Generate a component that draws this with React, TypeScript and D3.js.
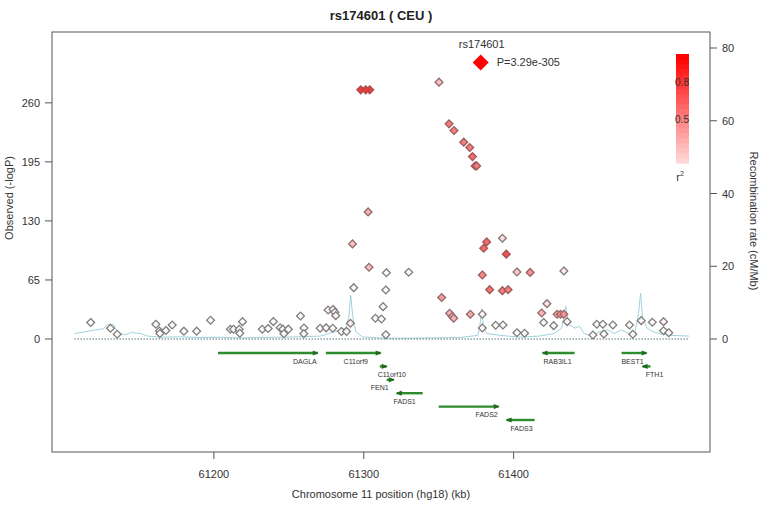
import React from "react";
import * as d3 from "d3";

// ---------------- DATA ----------------
const chartTitle = "rs174601 ( CEU )";
const leadName = "rs174601";
const leadPos = 61378; // kb
const leadLogP = 304.48;
const leadPText = "P=3.29e-305";

// [position kb, -log10 P, r2]
const snps: [number, number, number][] = [
  [61117.8, 18.2, 0.02], [61131.0, 11.8, 0.02], [61135.5, 5.2, 0.02], [61161.3, 16.2, 0.02],
  [61163.7, 8.8, 0.02], [61164.0, 6.1, 0.02], [61168.0, 9.4, 0.02], [61172.2, 15.4, 0.02],
  [61180.0, 8.6, 0.02], [61188.5, 8.6, 0.02], [61197.8, 20.6, 0.02], [61211.0, 10.7, 0.02],
  [61213.1, 10.7, 0.02], [61216.9, 10.7, 0.02], [61217.3, 6.3, 0.02], [61219.1, 19.1, 0.02],
  [61232.3, 10.7, 0.02], [61236.2, 11.6, 0.02], [61239.7, 19.1, 0.02], [61244.2, 12.4, 0.02],
  [61246.0, 10.8, 0.02], [61246.7, 5.8, 0.02], [61249.7, 10.8, 0.02], [61257.8, 25.3, 0.02],
  [61260.1, 12.1, 0.02], [61260.0, 5.8, 0.02], [61270.9, 11.8, 0.02], [61274.9, 12.3, 0.02],
  [61279.3, 11.8, 0.02], [61276.2, 31.9, 0.03], [61279.5, 32.5, 0.03], [61280.7, 29.4, 0.03],
  [61281.3, 25.7, 0.05], [61285.1, 8.3, 0.02], [61288.5, 8.3, 0.02], [61291.1, 17.3, 0.08],
  [61293.3, 56.5, 0.03], [61307.8, 22.8, 0.02], [61311.8, 22.0, 0.02], [61312.9, 35.6, 0.03],
  [61314.7, 54.0, 0.03], [61314.7, 4.7, 0.02], [61292.5, 104.7, 0.3], [61303.5, 79.0, 0.3],
  [61315.1, 73.0, 0.03], [61330.0, 73.5, 0.03], [61302.9, 139.9, 0.35], [61298.0, 274.3, 0.9],
  [61301.3, 274.3, 0.92], [61304.0, 274.3, 0.9], [61350.2, 282.8, 0.3], [61356.9, 236.9, 0.6],
  [61360.2, 229.5, 0.6], [61366.7, 216.7, 0.6], [61370.7, 210.8, 0.62], [61372.5, 200.8, 0.7],
  [61374.3, 190.6, 0.62], [61375.3, 190.6, 0.62], [61352.0, 45.7, 0.45], [61357.3, 28.3, 0.35],
  [61359.0, 24.8, 0.35], [61360.0, 22.8, 0.35], [61371.1, 27.2, 0.4], [61379.1, 27.2, 0.05],
  [61379.1, 12.1, 0.03], [61382.0, 106.9, 0.7], [61380.0, 99.9, 0.7], [61392.5, 110.9, 0.15],
  [61395.1, 93.4, 0.8], [61379.1, 70.5, 0.55], [61402.2, 73.8, 0.25], [61411.0, 73.3, 0.5],
  [61433.5, 74.9, 0.1], [61384.0, 54.3, 0.65], [61392.5, 53.2, 0.6], [61396.3, 54.3, 0.6],
  [61388.0, 15.1, 0.03], [61392.9, 15.4, 0.03], [61402.2, 6.9, 0.02], [61407.3, 6.3, 0.02],
  [61422.2, 38.9, 0.15], [61418.7, 28.6, 0.35], [61429.0, 27.2, 0.45], [61431.3, 27.2, 0.45],
  [61433.5, 27.2, 0.5], [61420.0, 18.2, 0.03], [61426.7, 14.7, 0.03], [61435.7, 19.1, 0.05],
  [61452.9, 4.4, 0.02], [61455.5, 16.2, 0.02], [61459.5, 16.2, 0.02], [61460.2, 5.5, 0.02],
  [61466.2, 15.4, 0.02], [61477.3, 15.4, 0.02], [61479.5, 5.2, 0.02], [61485.1, 20.2, 0.02],
  [61492.5, 18.4, 0.02], [61500.0, 19.1, 0.06], [61500.0, 9.1, 0.02], [61503.5, 6.9, 0.02],
];

// [position kb, recombination rate cM/Mb]
const recombination: [number, number][] = [
  [61107, 1.5], [61114, 2], [61121, 2.5], [61126, 2.8], [61129, 4], [61133, 4], [61136, 1.5],
  [61141, 1.2], [61145, 1.8], [61151, 1.5], [61156, 0.8], [61164, 0.5], [61177, 0.6],
  [61191, 0.4], [61204, 0.5], [61217, 0.3], [61231, 0.4], [61244, 0.5], [61257, 0.6],
  [61271, 0.8], [61277, 1.5], [61284, 2.5], [61288, 3], [61290, 6], [61291.3, 12], [61292.7, 6],
  [61294.7, 2], [61299, 0.6], [61311, 0.3], [61324, 0.2], [61344, 0.3], [61364, 0.4],
  [61376, 1], [61377.3, 3], [61378.7, 8.4], [61380, 3], [61382, 1.5], [61391, 1], [61404, 0.5],
  [61417, 0.8], [61427, 1.5], [61432, 3], [61434.7, 9], [61436.7, 4], [61441, 3], [61444, 3.5],
  [61447, 1.5], [61452, 0.8], [61457, 2], [61463, 2.5], [61467, 1.5], [61472, 2.5], [61477, 1.5],
  [61481, 2], [61483.3, 7], [61484.7, 12.6], [61486, 6], [61489, 3], [61493, 2], [61497, 1.5],
  [61504, 1], [61517, 0.8],
];

const regionStart = 61107;
const regionEnd = 61517;

const geneNames = ["DAGLA", "C11orf9", "C11orf10", "FEN1", "FADS1", "FADS2", "FADS3", "RAB3IL1", "BEST1", "FTH1"];
const geneStart = [61202.7, 61274.7, 61310.7, 61315.3, 61322.0, 61350.0, 61395.3, 61419.3, 61472.0, 61486.0];
const geneEnd = [61269.3, 61311.3, 61315.3, 61320.0, 61339.3, 61390.0, 61414.0, 61440.7, 61488.7, 61491.3];
const geneStrand = [1, 1, 1, 1, -1, 1, -1, -1, 1, -1];
const geneRow = [0, 0, 1, 2, 3, 4, 5, 0, 0, 1];
const geneLabelPos = [61260.7, 61294.7, 61318.7, 61310.7, 61327.3, 61382.0, 61405.3, 61429.3, 61479.3, 61494.0];

const xTicks = [61200, 61300, 61400];
const yTicks = [0, 65, 130, 195, 260];
const recombTicks = [0, 20, 40, 60, 80];
const legendTicks = ["0.8", "0.5"];

// ---------------- LAYOUT ----------------
const W = 764;
const H = 507;
const box = { left: 52, right: 710, top: 32, bottom: 452 };
const font = "'Liberation Sans', Arial, Helvetica, sans-serif";

export default function App() {
  const x = d3.scaleLinear().domain([61092, 61531]).range([box.left, box.right]);
  const y = d3.scaleLinear().domain([0, 338]).range([339, box.top]);
  const yR = d3.scaleLinear().domain([0, 80]).range([339, 48]);
  const legY = d3.scaleLinear().domain([0, 1]).range([178, 54]);
  const legendC = d3.interpolateRgb("#ffffff", "#ff0000");
  const fillC = d3.interpolateRgb("#ffffff", "#ec2a2a");
  const strokeC = d3.interpolateRgb("#7d7d7d", "#b04545");
  const rowY = (r: number) => 353 + r * 13.4;

  const recombLine = d3
    .line<[number, number]>()
    .x((d) => x(d[0]))
    .y((d) => yR(d[1]));

  const diamond = (cx: number, cy: number, r: number) =>
    `M${cx},${cy - r}L${cx + r},${cy}L${cx},${cy + r}L${cx - r},${cy}Z`;

  const sorted = [...snps].sort((a, b) => a[2] - b[2]);

  const stripes = d3.range(0.12, 1.0, 0.04);

  return (
    <svg
      width={W}
      height={H}
      style={{ position: "absolute", left: 0, top: 0, background: "#fff" }}
      fontFamily={font}
    >
      <rect x={0} y={0} width={W} height={H} fill="#fff" />
      <text x={381} y={20} textAnchor="middle" fontSize={13} fontWeight="bold" fill="#222">
        {chartTitle}
      </text>

      {/* recombination line */}
      <path d={recombLine(recombination) || ""} fill="none" stroke="#9fd2de" strokeWidth={1} />

      {/* zero dotted line */}
      <line
        x1={x(regionStart)}
        x2={x(regionEnd)}
        y1={y(0)}
        y2={y(0)}
        stroke="#4f7480"
        strokeWidth={1}
        strokeDasharray="1.5,1.5"
      />

      {/* SNPs */}
      {sorted.map((d, i) => (
        <path
          key={i}
          d={diamond(x(d[0]), y(d[1]), 3.9)}
          fill={fillC(d[2])}
          stroke={strokeC(d[2])}
          strokeWidth={1.3}
        />
      ))}

      {/* lead SNP */}
      <path d={diamond(x(leadPos), y(leadLogP), 8)} fill="#ff0000" />
      <text x={x(leadPos) + 1} y={y(leadLogP) - 14} textAnchor="middle" fontSize={11} fill="#333">
        {leadName}
      </text>
      <text x={x(leadPos) + 16} y={y(leadLogP) + 4} fontSize={11} fill="#333">
        {leadPText}
      </text>

      {/* genes */}
      {geneNames.map((g, i) => {
        const x1 = x(geneStart[i]);
        const x2 = x(geneEnd[i]);
        const gy = rowY(geneRow[i]);
        const tip = geneStrand[i] > 0 ? x2 : x1;
        const dir = geneStrand[i] > 0 ? 1 : -1;
        return (
          <g key={g}>
            <line x1={x1} x2={x2} y1={gy} y2={gy} stroke="#2e8b2e" strokeWidth={2.4} />
            <path
              d={`M${tip + dir * 1},${gy}L${tip - dir * 5},${gy - 2.6}L${tip - dir * 5},${gy + 2.6}Z`}
              fill="#1f6a1f"
            />
            <text x={x(geneLabelPos[i])} y={gy + 10.5} textAnchor="middle" fontSize={7} fill="#333">
              {g}
            </text>
          </g>
        );
      })}

      {/* box */}
      <rect
        x={box.left}
        y={box.top}
        width={box.right - box.left}
        height={box.bottom - box.top}
        fill="none"
        stroke="#555"
        strokeWidth={1}
      />

      {/* left axis */}
      {yTicks.map((t) => (
        <g key={t}>
          <line x1={box.left - 7} x2={box.left} y1={y(t)} y2={y(t)} stroke="#555" />
          <text x={box.left - 12} y={y(t) + 4} textAnchor="end" fontSize={11} fill="#333">
            {t}
          </text>
        </g>
      ))}
      <text
        transform={`translate(13,198) rotate(-90)`}
        textAnchor="middle"
        fontSize={11}
        fill="#333"
      >
        Observed (-logP)
      </text>

      {/* right axis */}
      {recombTicks.map((t) => (
        <g key={t}>
          <line x1={box.right} x2={box.right + 7} y1={yR(t)} y2={yR(t)} stroke="#555" />
          <text x={box.right + 12} y={yR(t) + 4} fontSize={11} fill="#333">
            {t}
          </text>
        </g>
      ))}
      <text
        transform={`translate(750,221) rotate(90)`}
        textAnchor="middle"
        fontSize={11}
        fill="#333"
      >
        Recombination rate (cM/Mb)
      </text>

      {/* bottom axis */}
      {xTicks.map((t) => (
        <g key={t}>
          <line x1={x(t)} x2={x(t)} y1={box.bottom} y2={box.bottom + 7} stroke="#555" />
          <text x={x(t)} y={box.bottom + 26} textAnchor="middle" fontSize={11} fill="#333">
            {t}
          </text>
        </g>
      ))}
      <text x={381} y={498} textAnchor="middle" fontSize={11} fill="#333">
        Chromosome 11 position (hg18) (kb)
      </text>

      {/* legend */}
      {stripes.map((s, i) => (
        <rect
          key={i}
          x={676}
          y={legY(s + 0.04)}
          width={13}
          height={legY(s) - legY(s + 0.04) + 0.5}
          fill={legendC(s + 0.04)}
        />
      ))}
      {legendTicks.map((t) => (
        <text key={t} x={682} y={legY(+t) + 7} textAnchor="middle" fontSize={10} fill="#333">
          {t}
        </text>
      ))}
      <text x={680} y={181} textAnchor="middle" fontSize={11} fill="#333">
        r<tspan dy={-5} fontSize={7}>2</tspan>
      </text>
    </svg>
  );
}
